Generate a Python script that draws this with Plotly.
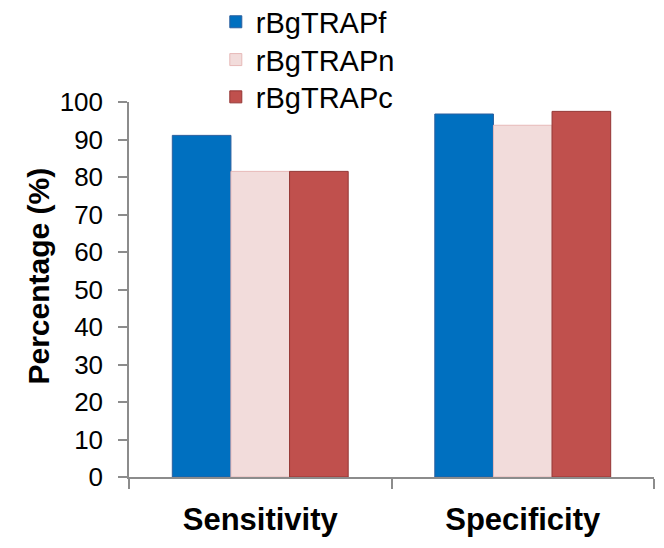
import plotly.graph_objects as go

categories = ["Sensitivity", "Specificity"]
series_names = ["rBgTRAPf", "rBgTRAPn", "rBgTRAPc"]
rBgTRAPf = [91.1, 96.8]
rBgTRAPn = [81.5, 93.8]
rBgTRAPc = [81.5, 97.5]
y_ticks = list(range(0, 101, 10))

fills = ["#0070C0", "#F2DCDB", "#C0504D"]
edges = ["#2A5F9E", "#E6B9B8", "#943634"]
values = [rBgTRAPf, rBgTRAPn, rBgTRAPc]
legend_ids = ["legend", "legend2", "legend3"]
legend_rows_y = [0.960, 0.891, 0.823]

FONT = "Liberation Sans, Arial, sans-serif"

fig = go.Figure()
for name, vals, fc, ec, lid in zip(series_names, values, fills, edges, legend_ids):
    fig.add_trace(go.Bar(
        x=categories, y=vals, name=name, legend=lid,
        marker=dict(color=fc, line=dict(color=ec, width=1)),
    ))

legend_style = dict(
    xref="container", yref="container",
    x=0.325, xanchor="left", yanchor="middle",
    font=dict(size=29, family=FONT, color="black"),
    bgcolor="rgba(0,0,0,0)", itemwidth=30,
)

fig.update_layout(
    width=664, height=548,
    margin=dict(l=129, r=10, t=102, b=71, autoexpand=False),
    paper_bgcolor="white", plot_bgcolor="white",
    barmode="group", bargap=0.33, bargroupgap=0,
    font=dict(family=FONT, color="black"),
    showlegend=True,
    legend=dict(legend_style, y=legend_rows_y[0]),
    legend2=dict(legend_style, y=legend_rows_y[1]),
    legend3=dict(legend_style, y=legend_rows_y[2]),
    xaxis=dict(
        automargin=True,
        showline=True, linecolor="#8C8C8C", linewidth=1.5,
        ticks="outside", ticklen=10, tickcolor="#8C8C8C", tickwidth=1.5,
        tickson="boundaries", ticklabelstandoff=14,
        tickfont=dict(size=31, family=FONT, color="black", weight="bold"),
        showgrid=False,
    ),
    yaxis=dict(
        automargin=True,
        range=[0, 100], tickvals=y_ticks, ticktext=[str(t) for t in y_ticks],
        showline=True, linecolor="#8C8C8C", linewidth=1.5,
        ticks="outside", ticklen=9, tickcolor="#8C8C8C", tickwidth=1.5,
        ticklabelstandoff=10,
        tickfont=dict(size=26, family=FONT, color="black"),
        showgrid=False, zeroline=False,
    ),
    annotations=[dict(
        text="<b>Percentage (%)</b>", textangle=-90,
        xref="paper", yref="paper", x=-0.173, y=0.535,
        xanchor="center", yanchor="middle", showarrow=False,
        font=dict(size=30, family=FONT, color="black"),
    )],
)

fig.write_html(
    "out.html",
    config={"displayModeBar": False},
    post_script="document.body.style.margin='0';document.body.style.overflow='hidden';",
)
